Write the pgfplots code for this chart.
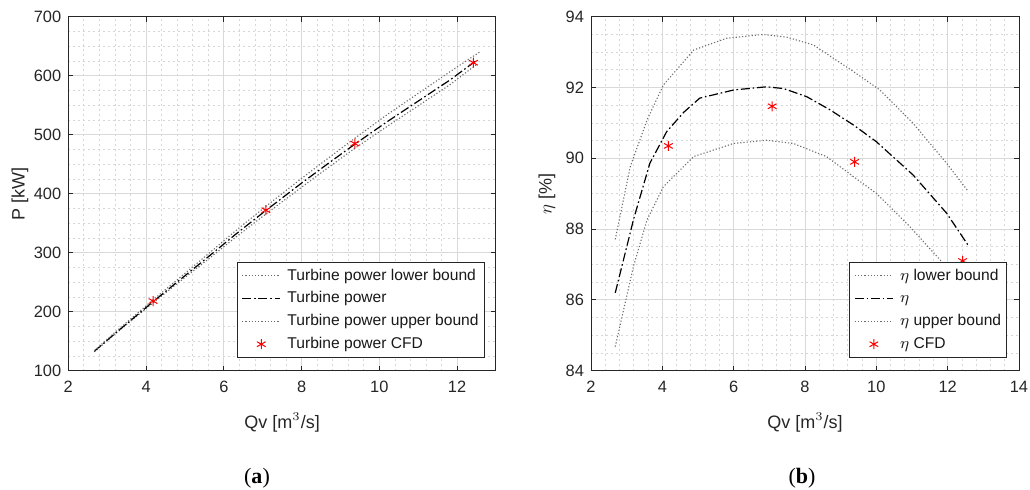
\documentclass[border=0pt]{standalone}
\usepackage{fontspec}
\setmainfont{Liberation Sans}
\newfontfamily\capfont{Liberation Serif}
\usepackage{pgfplots}
\pgfplotsset{compat=1.18}
\definecolor{axgray}{HTML}{262626}
\definecolor{bndgray}{HTML}{6E6E6E}

\pgfplotsset{
  matfig/.style={
    scale only axis,
    anchor=south west,
    height=177pt,
    axis line style={axgray, line width=0.5pt},
    tick style={axgray, line width=0.5pt},
    major tick length=2.6pt,
    minor tick length=0pt,
    tick align=inside,
    xtick pos=both, ytick pos=both,
    grid=both,
    major grid style={black!15, line width=0.45pt},
    minor grid style={black!16, line width=0.4pt, dash pattern=on 1pt off 1.5pt},
    /pgf/number format/assume math mode=true,
    ticklabel style={font=\fontsize{8.2}{9}\selectfont, text=axgray},
    xticklabel style={yshift=-1.5pt},
    label style={font=\fontsize{9}{10}\selectfont, text=axgray},
    legend cell align=left,
    legend style={anchor=south east, draw=axgray, line width=0.5pt,
      font=\fontsize{7.8}{9}\selectfont, text=black!90,
      inner xsep=2.3pt, inner ysep=2.3pt, row sep=2.4pt,
      nodes={inner sep=0.6pt, text height=6pt, text depth=1.8pt}},
    legend image code/.code={\draw[#1] (0pt,0pt) -- (19pt,0pt); \path[draw=none] (0pt,0pt) -- (22pt,0pt);},
  },
  bound/.style={bndgray, line width=0.55pt, dash pattern=on 0.6pt off 1.0pt},
  mainline/.style={black, line width=0.6pt, dash pattern=on 4.5pt off 1.4pt on 0.8pt off 1.4pt},
  cfd/.style={only marks, red, mark=asterisk, mark size=2.5pt, line width=0.5pt,
    legend image code/.code={\draw[mark repeat=2, mark phase=2, ##1] plot coordinates {(0pt,0pt) (9.5pt,0pt) (19pt,0pt)}; \path[draw=none] (0pt,0pt) -- (22pt,0pt);}},
}

\begin{document}
\begin{tikzpicture}
\path[use as bounding box] (0,0) rectangle (515pt,244.5pt);

% (a) turbine power
\begin{axis}[matfig,
  at={(34.15pt,59.15pt)}, width=213.85pt,
  xmin=2, xmax=13, ymin=100, ymax=700,
  xtick={2,4,...,12}, ytick={100,200,...,700},
  minor x tick num=4, minor y tick num=3,
  xlabel={Qv [m$^3$/s]}, ylabel={P [kW]},
  xlabel style={at={(axis description cs:0.5,-0.147)}, anchor=center},
  ylabel style={at={(axis description cs:-0.113,0.5)}, anchor=center},
  legend style={at={(rel axis cs:0.974,0.035)}},
]
\addplot[bound] coordinates {
  (2.67,132) (3.2,162) (4.18,215) (5.0,258) (5.6,289) (6.3,326) (7.07,365)
  (8.0,411) (8.7,445) (9.37,477) (10.2,514) (11.0,549) (11.8,584) (12.5,619)
};
\addlegendentry{Turbine power lower bound}
\addplot[mainline] coordinates {
  (2.67,133) (3.2,163) (4.18,217) (5.0,261) (5.6,293) (6.3,331) (7.07,371)
  (8.0,418) (8.7,452) (9.37,484) (10.2,522) (11.0,557) (11.8,592) (12.5,626)
};
\addlegendentry{Turbine power}
\addplot[bound] coordinates {
  (2.67,134) (3.2,165) (4.18,220) (5.0,265) (5.6,298) (6.3,337) (7.07,378)
  (8.0,426) (8.7,461) (9.37,494) (10.2,534) (11.0,570) (11.8,606) (12.6,641)
};
\addlegendentry{Turbine power upper bound}
\addplot[cfd] coordinates {(4.18,218) (7.08,372) (9.37,485) (12.42,622)};
\addlegendentry{Turbine power CFD}
\end{axis}

% (b) efficiency
\begin{axis}[matfig,
  at={(295.5pt,59.15pt)}, width=214pt,
  xmin=2, xmax=14, ymin=84, ymax=94,
  xtick={2,4,...,14}, ytick={84,86,...,94},
  minor x tick num=4, minor y tick num=3,
  xlabel={Qv [m$^3$/s]}, ylabel={$\eta$ [\%]},
  xlabel style={at={(axis description cs:0.5,-0.147)}, anchor=center},
  ylabel style={at={(axis description cs:-0.103,0.5)}, anchor=center},
  legend style={at={(rel axis cs:0.973,0.035)}},
]
\addplot[bound] coordinates {
  (2.68,84.68) (3.19,86.94) (3.57,88.26) (4.03,89.20) (4.88,90.05) (6.0,90.42)
  (6.92,90.51) (7.67,90.42) (8.6,90.05) (9.36,89.48) (10.0,89.01) (10.94,88.07)
  (11.84,87.07) (12.57,86.35)
};
\addlegendentry{$\eta$ lower bound}
\addplot[mainline] coordinates {
  (2.68,86.2) (3.2,88.3) (3.65,89.86) (4.12,90.75) (4.6,91.3) (5.05,91.7) (6.0,91.93)
  (6.92,92.02) (7.4,91.97) (8.05,91.74) (8.7,91.37) (9.36,90.94) (10.0,90.47)
  (11.03,89.53) (11.97,88.45) (12.57,87.55)
};
\addlegendentry{$\eta$}
\addplot[bound] coordinates {
  (2.68,87.71) (3.10,89.76) (3.57,91.08) (4.03,92.07) (4.88,93.06) (5.8,93.39)
  (6.83,93.50) (7.5,93.42) (8.24,93.20) (9.36,92.45) (10.1,91.93) (11.03,90.99)
  (11.97,89.86) (12.55,89.10)
};
\addlegendentry{$\eta$ upper bound}
\addplot[cfd] coordinates {(4.17,90.35) (7.08,91.47) (9.39,89.90) (12.42,87.1)};
\addlegendentry{$\eta$ CFD}
\end{axis}

\node[font=\capfont\fontsize{11}{12}\selectfont] at (128.5pt,5.5pt) {(\textbf{a})};
\node[font=\capfont\fontsize{11}{12}\selectfont] at (401pt,5.5pt) {(\textbf{b})};
\end{tikzpicture}
\end{document}
